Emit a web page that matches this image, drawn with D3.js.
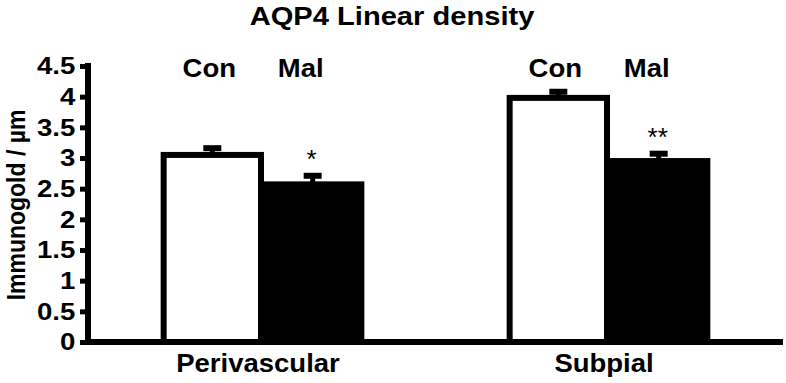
<!DOCTYPE html>
<html><head><meta charset="utf-8">
<script src="https://cdn.jsdelivr.net/npm/d3@7"></script>
<style>body{margin:0;background:#fff}svg{display:block}text{font-family:"Liberation Sans",Arial,sans-serif;fill:#000}</style>
</head><body><svg id="c" width="786" height="383"></svg>
<script>
const categories = ["Perivascular", "Subpial"];
const seriesNames = ["Con", "Mal"];
const conValues = [3.05, 3.98];
const malValues = [2.57, 2.95];
const conErrors = [0.11, 0.10];
const malErrors = [0.14, 0.12];
const significance = ["*", "**"];
const yTicks = [0, 0.5, 1, 1.5, 2, 2.5, 3, 3.5, 4, 4.5];
const yTickLabels = ["0", "0.5", "1", "1.5", "2", "2.5", "3", "3.5", "4", "4.5"];

const svg = d3.select("#c");
const axisX = 88, baseY = 342, topY = 66;
const y = d3.scaleLinear().domain([0, 4.5]).range([baseY, topY]);
const x = d3.scaleBand().domain(categories).range([axisX, 780]).paddingInner(0.42).paddingOuter(0.21);
const xs = d3.scaleBand().domain(seriesNames).range([0, x.bandwidth()]).paddingInner(0).paddingOuter(0.0);

const data = categories.map((c, i) => ({
  cat: c,
  vals: [
    {s: "Con", v: conValues[i], e: conErrors[i]},
    {s: "Mal", v: malValues[i], e: malErrors[i]}
  ],
  sig: significance[i]
}));

function stretchedText(parent, tx, ty, txt, size, sx, weight) {
  return parent.append("g").attr("transform", `translate(${tx},${ty}) scale(${sx},1)`)
    .append("text").attr("text-anchor", "middle").attr("font-size", size)
    .attr("font-weight", weight || "bold").text(txt);
}

// title
stretchedText(svg, 392, 25, "AQP4 Linear density", 26, 1.12);

// y label
svg.append("g").attr("transform", `translate(25,${(baseY + topY) / 2 + 1}) scale(1.15,1) rotate(-90)`)
  .append("text").attr("text-anchor", "middle").attr("font-size", 23).attr("font-weight", "bold")
  .text("Immunogold / µm");

// bars
const g = svg.append("g");
data.forEach(d => {
  const gx = x(d.cat);
  d.vals.forEach(b => {
    const bx = gx + xs(b.s);
    g.append("rect").attr("x", bx + 3).attr("y", y(b.v))
      .attr("width", xs.bandwidth() - 3).attr("height", baseY - y(b.v))
      .attr("fill", b.s === "Con" ? "#fff" : "#000")
      .attr("stroke", "#000").attr("stroke-width", 6);
    const cx = bx + xs.bandwidth() / 2 + 1.5;
    g.append("line").attr("x1", cx).attr("x2", cx).attr("y1", y(b.v)).attr("y2", y(b.v + b.e))
      .attr("stroke", "#000").attr("stroke-width", 5);
    g.append("line").attr("x1", cx - 9).attr("x2", cx + 9).attr("y1", y(b.v + b.e)).attr("y2", y(b.v + b.e))
      .attr("stroke", "#000").attr("stroke-width", 6);
    // series label
    stretchedText(g, cx + (b.s === "Con" ? -3 : -12), 77, b.s, 25, 1.1);
    if (b.s === "Mal") {
      g.append("text").attr("x", cx - 1).attr("y", y(b.v + b.e) - 8).attr("text-anchor", "middle")
        .attr("font-size", 26).text(d.sig);
    }
  });
});

// y axis
const yAxis = d3.axisLeft(y).tickValues(yTicks).tickFormat((d, i) => yTickLabels[i]).tickSize(8).tickPadding(5);
const ya = svg.append("g").attr("transform", `translate(${axisX},0)`).call(yAxis);
ya.select(".domain").attr("stroke-width", 6).attr("d", `M0,${topY - 3}V${baseY + 3}`);
ya.selectAll(".tick line").attr("stroke-width", 5);
ya.selectAll(".tick text").attr("font-size", 24).attr("font-weight", "bold")
  .attr("font-family", "Liberation Sans, Arial, sans-serif").attr("fill", "#000")
  .attr("transform", "scale(1.15,1)").attr("x", -11);

// x axis
const xAxis = d3.axisBottom(x).tickSize(0).tickFormat(() => "");
const xa = svg.append("g").attr("transform", `translate(0,${baseY})`).call(xAxis);
xa.select(".domain").attr("stroke-width", 6).attr("d", `M${axisX - 3},0H783`);
categories.forEach(c => {
  stretchedText(svg, x(c) + x.bandwidth() / 2 - 3, 372, c, 25, 1.1);
});
</script></body></html>
